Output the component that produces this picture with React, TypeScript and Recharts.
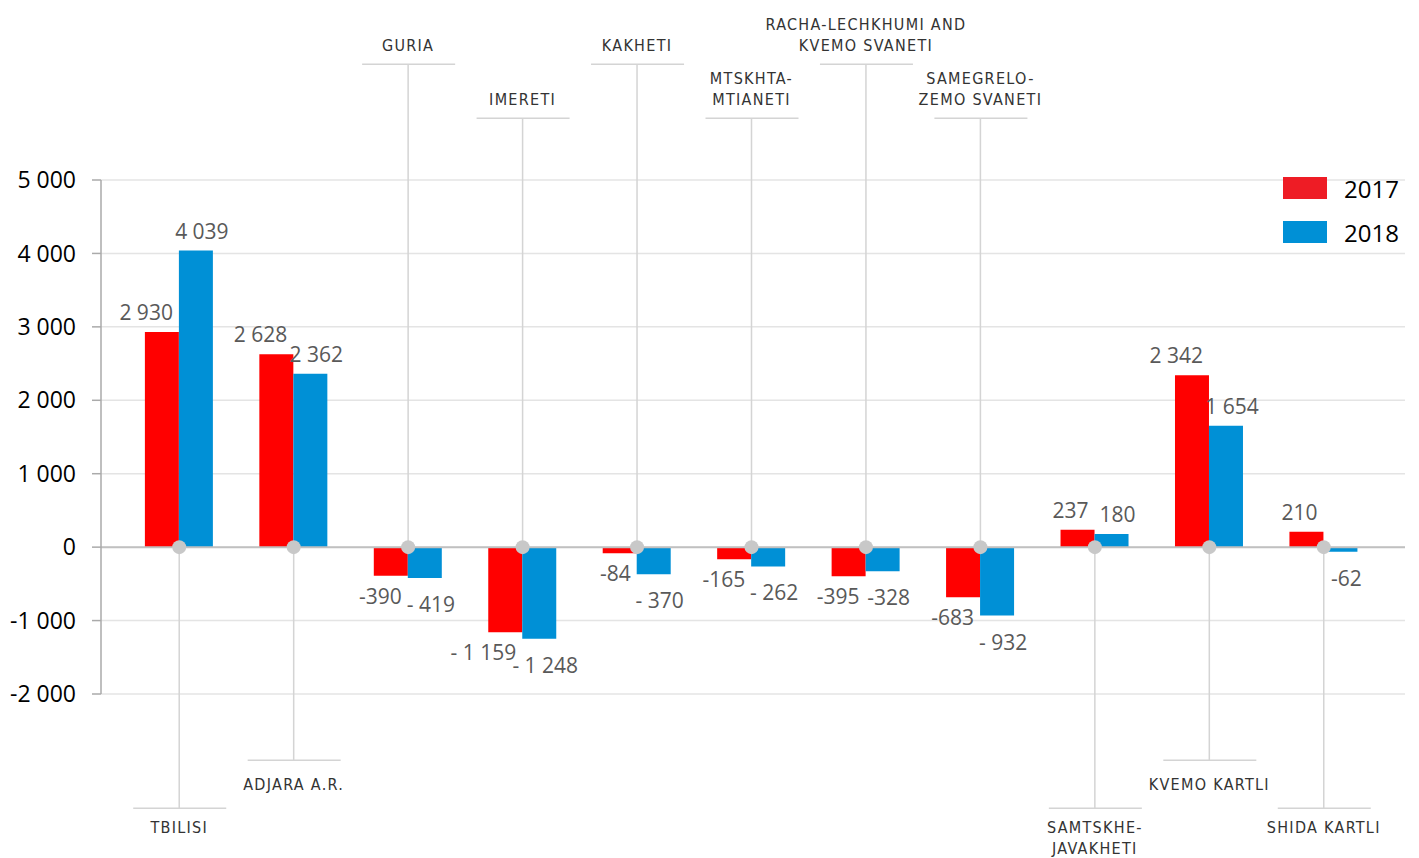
import { ComposedChart, Bar, Scatter, XAxis, YAxis, CartesianGrid, ReferenceLine, LabelList } from 'recharts'

const regions = ['TBILISI', 'ADJARA A.R.', 'GURIA', 'IMERETI', 'KAKHETI', 'MTSKHTA-|MTIANETI', 'RACHA-LECHKHUMI AND|KVEMO SVANETI', 'SAMEGRELO-|ZEMO SVANETI', 'SAMTSKHE-|JAVAKHETI', 'KVEMO KARTLI', 'SHIDA KARTLI']
const values2017 = [2930, 2628, -390, -1159, -84, -165, -395, -683, 237, 2342, 210]
const values2018 = [4039, 2362, -419, -1248, -370, -262, -328, -932, 180, 1654, -62]
const labels2017 = ['2 930', '2 628', '-390', '- 1 159', '-84', '-165', '-395', '-683', '237', '2 342', '210']
const labels2018 = ['4 039', '2 362', '- 419', '- 1 248', '- 370', '- 262', '-328', '- 932', '180', '1 654', '-62']
// where each region name sits: t1/t2 above the chart, b1/b2 below it
const labelRows = ['b2', 'b1', 't1', 't2', 't1', 't2', 't1', 't2', 'b2', 'b1', 'b2']
const yTicks = [-2000, -1000, 0, 1000, 2000, 3000, 4000, 5000]
const seriesNames = ['2017', '2018']

const data = regions.map((name, i) => ({
  name,
  v2017: values2017[i],
  v2018: values2018[i],
  l2017: labels2017[i],
  l2018: labels2018[i],
  row: labelRows[i],
  zero: 0,
}))

const RED = '#ff0000'
const BLUE = '#0090d6'
const LABEL_FONT = '"Open Sans", "Noto Sans", sans-serif'

const fmt = (v: number) => {
  const s = Math.abs(v).toString().replace(/\B(?=(\d{3})+(?!\d))/g, ' ')
  return v < 0 ? '-' + s : s
}

const rowOffset: Record<string, number> = { t1: -483, t2: -429, b1: 213, b2: 261 }

function Leader(props: any) {
  const { cx, cy, payload } = props
  if (cx == null || cy == null) return null
  const row: string = payload.row
  const lines: string[] = payload.name.split('|')
  const ly = cy + rowOffset[row]
  const top = row[0] === 't'
  const textYs = top
    ? lines.map((_, k) => ly - 19 - (lines.length - 1 - k) * 21)
    : lines.map((_, k) => ly + (row === 'b1' ? 24 : 19) + k * 21)
  return (
    <g>
      <line x1={cx} x2={cx} y1={cy} y2={ly} stroke="#d4d4d4" strokeWidth={1.5} />
      <line x1={cx - 46} x2={cx + 47} y1={ly} y2={ly} stroke="#d4d4d4" strokeWidth={1.5} />
      {lines.map((t, k) => (
        <text key={k} x={cx} y={textYs[k]} textAnchor="middle" dominantBaseline="central"
          fontFamily='"DejaVu Sans Condensed", "DejaVu Sans", sans-serif' fontWeight={300} fontSize={16} letterSpacing={1.3} fill="#333">{t}</text>
      ))}
      <circle cx={cx} cy={cy} r={7} fill="#c8c8c8" />
    </g>
  )
}

// 2017 labels hug the right edge of the red bar, 2018 labels sit centred a little right
const makeLabel = (key: 'l2017' | 'l2018') => (props: any) => {
  const { x, y, width, height, index } = props
  const red = key === 'l2017'
  const v = red ? values2017[index] : values2018[index]
  const tx = red ? x + width - 6 : x + width / 2 + 6
  const endY = v >= 0 ? Math.min(y, y + height) : Math.max(y, y + height)
  const ty = v >= 0 ? endY - 20 : endY + (red ? 20 : 26)
  return (
    <text x={tx} y={ty} textAnchor={red ? 'end' : 'middle'} dominantBaseline="central"
      fontFamily={LABEL_FONT} fontSize={21} fill="#595959">{data[index][key]}</text>
  )
}

function LegendBox() {
  const colors = ['#ee1c25', BLUE]
  return (
    <div style={{ position: 'absolute', left: 1283, top: 166, fontFamily: LABEL_FONT, fontSize: 24, color: '#000' }}>
      {seriesNames.map((t, i) => (
        <div key={t} style={{ display: 'flex', alignItems: 'center', height: 44 }}>
          <div style={{ width: 44, height: 22, background: colors[i], marginRight: 17 }} />
          <span>{t}</span>
        </div>
      ))}
    </div>
  )
}

export default function App() {
  return (
    <div style={{ position: 'absolute', left: 0, top: 0, width: 1419, height: 858, background: '#fff' }}>
      <ComposedChart width={1419} height={858} data={data}
        margin={{ top: 180, right: 14, bottom: 164, left: 21 }}
        barCategoryGap="20%" barGap={0}>
        <CartesianGrid vertical={false} stroke="#e4e4e4" strokeWidth={1.5} />
        <XAxis dataKey="name" hide padding={{ left: 21, right: 24 }} />
        <YAxis domain={[-2000, 5000]} ticks={yTicks} width={80} tickFormatter={fmt}
          axisLine={{ stroke: '#aaaaaa', strokeWidth: 1.5 }} tickLine={{ stroke: '#aaaaaa', strokeWidth: 1.5 }}
          tickSize={9} tickMargin={16}
          tick={{ fill: '#000', fontSize: 23, fontFamily: LABEL_FONT }} />
        <ReferenceLine y={0} stroke="#c0c0c0" strokeWidth={2} />
        <Bar dataKey="v2017" fill={RED} isAnimationActive={false}>
          <LabelList dataKey="l2017" content={makeLabel('l2017')} />
        </Bar>
        <Bar dataKey="v2018" fill={BLUE} isAnimationActive={false}>
          <LabelList dataKey="l2018" content={makeLabel('l2018')} />
        </Bar>
        <Scatter dataKey="zero" shape={<Leader />} isAnimationActive={false} legendType="none" />
      </ComposedChart>
      <LegendBox />
    </div>
  )
}
